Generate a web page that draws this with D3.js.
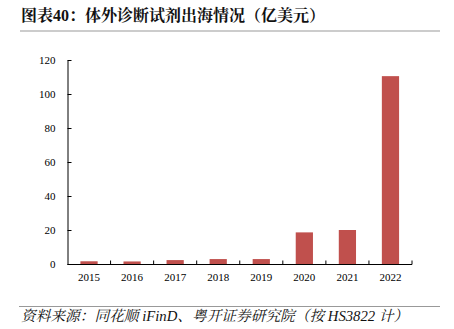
<!DOCTYPE html>
<html><head><meta charset="utf-8">
<script src="https://cdn.jsdelivr.net/npm/d3@7"></script>
<style>
html,body{margin:0;padding:0;background:#fff;}
svg{display:block;}
</style></head>
<body>
<svg id="c" width="454" height="329"></svg>
<script>
const years = ["2015","2016","2017","2018","2019","2020","2021","2022"];
const values = [1.6, 1.5, 2.3, 2.9, 2.9, 18.6, 20.0, 110.5];
const yTicks = [0, 20, 40, 60, 80, 100, 120];
const title = "图表40：体外诊断试剂出海情况（亿美元）";
const source = "资料来源：同花顺 iFinD、粤开证券研究院（按 HS3822 计）";

const svg = d3.select("#c");
const serif = "'Liberation Serif','Times New Roman','Noto Serif CJK SC','Noto Sans CJK SC',serif";

svg.append("text").attr("x", 21).attr("y", 21)
  .attr("font-family", serif).attr("font-weight", "bold").attr("font-size", 16)
  .attr("fill", "#111").text(title);
svg.append("line").attr("x1", 20).attr("x2", 440).attr("y1", 31).attr("y2", 31)
  .attr("stroke", "#999").attr("stroke-width", 1);

const x = d3.scaleBand().domain(years).range([67.5, 412]).paddingInner(0.6).paddingOuter(0.3);
const y = d3.scaleLinear().domain([0, 120]).range([264, 60]);

const g = svg.append("g");
g.selectAll("rect").data(values).join("rect")
  .attr("x", (d, i) => x(years[i]))
  .attr("width", x.bandwidth())
  .attr("y", d => y(d))
  .attr("height", d => y(0) - y(d))
  .attr("fill", "#C0504D");

// y axis
const ya = svg.append("g").attr("transform", "translate(67.5,0)")
  .call(d3.axisLeft(y).tickValues(yTicks).tickSize(-4).tickPadding(12).tickSizeOuter(0));
ya.select(".domain").attr("stroke", "#000");
ya.selectAll(".tick line").attr("stroke", "#000");
ya.selectAll("text").attr("font-family", serif).attr("font-size", 11).attr("fill", "#000");

// x axis
const step = x.step();
const xa = svg.append("g").attr("transform", "translate(0,264.5)")
  .call(d3.axisBottom(x).tickSize(0).tickPadding(9));
xa.select(".domain").attr("d", "M67.5,0H412").attr("stroke", "#000");
xa.selectAll("text").attr("font-family", serif).attr("font-size", 11).attr("fill", "#000");
const bounds = years.map(d => x(d) - (step - x.bandwidth()) / 2 + step);
xa.selectAll(".bt").data(bounds).join("line").attr("class", "bt")
  .attr("x1", d => d).attr("x2", d => d).attr("y1", 0).attr("y2", -4)
  .attr("stroke", "#000");

svg.append("line").attr("x1", 19).attr("x2", 440).attr("y1", 306.5).attr("y2", 306.5)
  .attr("stroke", "#999").attr("stroke-width", 1);
svg.append("text").attr("x", 21).attr("y", 321)
  .attr("font-family", serif).attr("font-style", "italic").attr("font-size", 14.7)
  .attr("fill", "#111").text(source);
</script>
</body></html>
